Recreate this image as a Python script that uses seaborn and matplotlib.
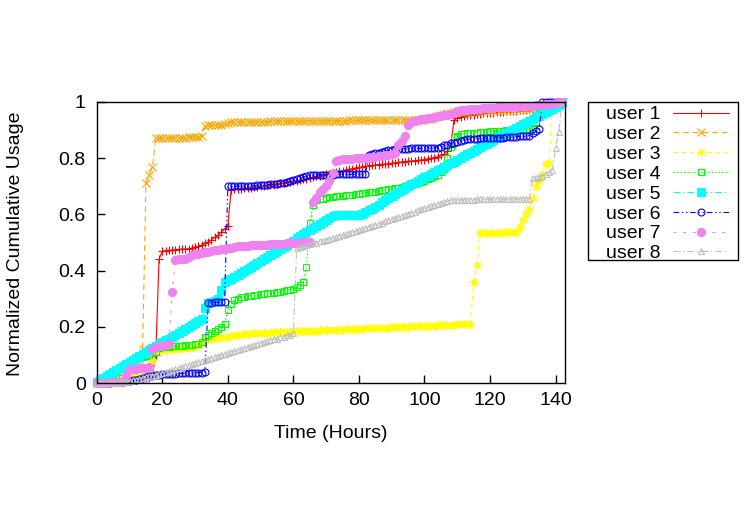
import seaborn as sns
import matplotlib.pyplot as plt
from matplotlib.patches import Rectangle
from matplotlib.ticker import FuncFormatter

# Data (one sample per hour)
# =====================================================================
users = ['user 1', 'user 2', 'user 3', 'user 4', 'user 5', 'user 6', 'user 7', 'user 8']
colors = ['#ff0000', '#ffa500', '#ffff00', '#00ff00', '#00ffff', '#0000ff', '#ee82ee', '#c0c0c0']
x_ticks = [0, 20, 40, 60, 80, 100, 120, 140]
y_ticks = [0, 0.2, 0.4, 0.6, 0.8, 1]

hours = list(range(0, 143))

user1 = [0, 0.001, 0.002, 0.003, 0.004, 0.005, 0.006, 0.007, 0.008, 0.009,
         0.01, 0.011, 0.013, 0.014, 0.016, 0.018, 0.02, 0.03, 0.1, 0.44,
         0.47, 0.471, 0.472, 0.473, 0.475, 0.476, 0.477, 0.477, 0.478, 0.479,
         0.483, 0.486, 0.49, 0.497, 0.503, 0.51, 0.518, 0.527, 0.537, 0.548,
         0.56, 0.688, 0.69, 0.691, 0.692, 0.693, 0.694, 0.695, 0.696, 0.698,
         0.70, 0.701, 0.703, 0.704, 0.706, 0.708, 0.71, 0.712, 0.714, 0.716,
         0.718, 0.72, 0.722, 0.725, 0.727, 0.73, 0.732, 0.735, 0.738, 0.74,
         0.743, 0.745, 0.748, 0.75, 0.753, 0.755, 0.758, 0.76, 0.763, 0.765,
         0.767, 0.769, 0.771, 0.773, 0.774, 0.776, 0.777, 0.778, 0.779, 0.78,
         0.782, 0.783, 0.785, 0.786, 0.788, 0.789, 0.79, 0.791, 0.792, 0.793,
         0.795, 0.797, 0.80, 0.802, 0.805, 0.81, 0.815, 0.825, 0.84, 0.936,
         0.942, 0.946, 0.95, 0.952, 0.954, 0.955, 0.957, 0.958, 0.959, 0.96,
         0.961, 0.962, 0.963, 0.964, 0.965, 0.966, 0.967, 0.968, 0.969, 0.97,
         0.971, 0.972, 0.973, 0.974, 0.975, 0.976, 0.978, 0.98, 0.982, 0.985,
         0.99, 0.995, 1.0]

user2 = [0, 0.002, 0.003, 0.005, 0.006, 0.008, 0.01, 0.012, 0.015, 0.017,
         0.02, 0.025, 0.03, 0.06, 0.12, 0.71, 0.74, 0.77, 0.87, 0.87,
         0.871, 0.871, 0.872, 0.872, 0.872, 0.873, 0.873, 0.873, 0.874, 0.874,
         0.875, 0.876, 0.877, 0.915, 0.916, 0.917, 0.918, 0.919, 0.919, 0.92,
         0.925, 0.928, 0.929, 0.929, 0.929, 0.93, 0.93, 0.93, 0.93, 0.93,
         0.93, 0.93, 0.93, 0.931, 0.931, 0.931, 0.931, 0.931, 0.931, 0.931,
         0.931, 0.932, 0.932, 0.932, 0.932, 0.932, 0.932, 0.932, 0.932, 0.933,
         0.933, 0.933, 0.933, 0.933, 0.933, 0.933, 0.933, 0.934, 0.934, 0.934,
         0.934, 0.934, 0.934, 0.934, 0.934, 0.935, 0.935, 0.935, 0.935, 0.935,
         0.935, 0.935, 0.935, 0.935, 0.936, 0.936, 0.936, 0.936, 0.936, 0.936,
         0.937, 0.938, 0.94, 0.944, 0.948, 0.953, 0.958, 0.96, 0.962, 0.963,
         0.964, 0.964, 0.965, 0.965, 0.966, 0.966, 0.967, 0.967, 0.968, 0.968,
         0.969, 0.969, 0.97, 0.97, 0.971, 0.971, 0.972, 0.972, 0.973, 0.973,
         0.974, 0.975, 0.976, 0.977, 0.978, 0.979, 0.981, 0.983, 0.985, 0.987,
         0.99, 0.995, 1.0]

user3 = [0, 0.001, 0.003, 0.004, 0.006, 0.008, 0.01, 0.012, 0.015, 0.018,
         0.022, 0.028, 0.035, 0.04, 0.045, 0.048, 0.05, 0.08, 0.115, 0.117,
         0.118, 0.119, 0.12, 0.121, 0.122, 0.123, 0.124, 0.125, 0.127, 0.128,
         0.13, 0.135, 0.145, 0.155, 0.158, 0.159, 0.16, 0.162, 0.163, 0.165,
         0.166, 0.168, 0.17, 0.171, 0.173, 0.174, 0.176, 0.177, 0.178, 0.178,
         0.179, 0.179, 0.18, 0.18, 0.181, 0.181, 0.182, 0.182, 0.183, 0.183,
         0.184, 0.184, 0.185, 0.185, 0.186, 0.186, 0.187, 0.187, 0.188, 0.188,
         0.189, 0.189, 0.19, 0.19, 0.191, 0.191, 0.192, 0.192, 0.193, 0.193,
         0.194, 0.194, 0.195, 0.195, 0.196, 0.196, 0.197, 0.197, 0.198, 0.198,
         0.199, 0.199, 0.2, 0.2, 0.201, 0.201, 0.202, 0.202, 0.203, 0.203,
         0.204, 0.204, 0.205, 0.205, 0.206, 0.206, 0.207, 0.207, 0.208, 0.208,
         0.209, 0.209, 0.21, 0.21, 0.211, 0.36, 0.42, 0.533, 0.534, 0.534,
         0.534, 0.534, 0.535, 0.535, 0.535, 0.536, 0.536, 0.536, 0.537, 0.556,
         0.58, 0.60, 0.618, 0.66, 0.70, 0.72, 0.74, 0.78, 0.783, 0.99,
         0.993, 0.996, 1.0]

user4 = [0, 0.003, 0.005, 0.008, 0.01, 0.015, 0.02, 0.04, 0.065, 0.07,
         0.075, 0.08, 0.085, 0.089, 0.093, 0.097, 0.1, 0.106, 0.112, 0.125,
         0.128, 0.129, 0.13, 0.131, 0.132, 0.133, 0.134, 0.135, 0.136, 0.137,
         0.139, 0.141, 0.145, 0.165, 0.17, 0.178, 0.185, 0.192, 0.2, 0.21,
         0.26, 0.28, 0.295, 0.3, 0.305, 0.307, 0.31, 0.311, 0.313, 0.314,
         0.316, 0.317, 0.319, 0.32, 0.322, 0.323, 0.325, 0.327, 0.33, 0.333,
         0.336, 0.343, 0.35, 0.36, 0.414, 0.568, 0.633, 0.651, 0.653, 0.655,
         0.66, 0.661, 0.663, 0.664, 0.666, 0.667, 0.668, 0.669, 0.67, 0.671,
         0.673, 0.675, 0.677, 0.678, 0.68, 0.681, 0.683, 0.685, 0.687, 0.689,
         0.691, 0.693, 0.695, 0.697, 0.70, 0.702, 0.705, 0.708, 0.712, 0.716,
         0.72, 0.725, 0.73, 0.735, 0.74, 0.75, 0.76, 0.80, 0.84, 0.875,
         0.88, 0.885, 0.886, 0.888, 0.889, 0.89, 0.891, 0.892, 0.893, 0.894,
         0.895, 0.896, 0.897, 0.898, 0.898, 0.899, 0.899, 0.90, 0.90, 0.901,
         0.902, 0.903, 0.904, 0.905, 0.93, 0.965, 0.97, 0.975, 0.98, 0.985,
         0.99, 0.995, 1.0]

user5 = [0.005, 0.012, 0.019, 0.026, 0.033, 0.04, 0.047, 0.054, 0.061, 0.068,
         0.075, 0.082, 0.089, 0.096, 0.103, 0.11, 0.117, 0.124, 0.131, 0.138,
         0.145, 0.152, 0.159, 0.166, 0.173, 0.18, 0.187, 0.194, 0.201, 0.208,
         0.215, 0.222, 0.229, 0.267, 0.285, 0.288, 0.292, 0.30, 0.33, 0.36,
         0.366, 0.372, 0.378, 0.384, 0.391, 0.398, 0.405, 0.412, 0.419, 0.426,
         0.433, 0.44, 0.447, 0.455, 0.462, 0.47, 0.477, 0.485, 0.492, 0.5,
         0.507, 0.515, 0.522, 0.53, 0.537, 0.545, 0.552, 0.56, 0.567, 0.574,
         0.581, 0.588, 0.594, 0.598, 0.598, 0.598, 0.598, 0.598, 0.598, 0.599,
         0.599, 0.60, 0.607, 0.614, 0.621, 0.628, 0.635, 0.643, 0.65, 0.657,
         0.664, 0.672, 0.679, 0.686, 0.693, 0.70, 0.707, 0.713, 0.72, 0.726,
         0.732, 0.738, 0.745, 0.751, 0.757, 0.763, 0.77, 0.776, 0.782, 0.788,
         0.795, 0.801, 0.807, 0.813, 0.82, 0.826, 0.832, 0.838, 0.845, 0.851,
         0.858, 0.864, 0.87, 0.876, 0.883, 0.889, 0.895, 0.901, 0.908, 0.914,
         0.92, 0.926, 0.933, 0.939, 0.945, 0.951, 0.958, 0.964, 0.97, 0.976,
         0.983, 0.989, 1.0]

user6 = [0, 0, 0, 0.001, 0.002, 0.003, 0.004, 0.005, 0.006, 0.007,
         0.009, 0.011, 0.013, 0.016, 0.019, 0.022, 0.025, 0.027, 0.029, 0.031,
         0.032, 0.032, 0.033, 0.034, 0.034, 0.035, 0.035, 0.036, 0.036, 0.037,
         0.037, 0.038, 0.038, 0.04, 0.285, 0.286, 0.287, 0.288, 0.289, 0.29,
         0.70, 0.70, 0.70, 0.70, 0.70, 0.70, 0.701, 0.701, 0.702, 0.703,
         0.704, 0.705, 0.706, 0.707, 0.708, 0.709, 0.711, 0.713, 0.716, 0.718,
         0.722, 0.725, 0.728, 0.732, 0.737, 0.74, 0.74, 0.74, 0.741, 0.741,
         0.741, 0.741, 0.741, 0.742, 0.742, 0.742, 0.742, 0.742, 0.742, 0.743,
         0.743, 0.743, 0.744, 0.81, 0.816, 0.818, 0.82, 0.823, 0.825, 0.828,
         0.83, 0.831, 0.832, 0.833, 0.834, 0.834, 0.835, 0.835, 0.835, 0.835,
         0.835, 0.835, 0.836, 0.836, 0.837, 0.84, 0.845, 0.848, 0.852, 0.855,
         0.859, 0.862, 0.865, 0.867, 0.868, 0.869, 0.869, 0.87, 0.871, 0.871,
         0.872, 0.872, 0.873, 0.873, 0.873, 0.874, 0.874, 0.875, 0.876, 0.877,
         0.877, 0.878, 0.88, 0.888, 0.895, 0.905, 1.0, 1.0, 1.0, 1.0,
         1.0, 1.0, 1.0]

user7 = [0, 0, 0.001, 0.002, 0.003, 0.004, 0.005, 0.006, 0.008, 0.03,
         0.05, 0.051, 0.052, 0.053, 0.054, 0.055, 0.056, 0.12, 0.13, 0.131,
         0.133, 0.135, 0.14, 0.325, 0.438, 0.44, 0.441, 0.443, 0.45, 0.455,
         0.458, 0.46, 0.462, 0.465, 0.467, 0.469, 0.472, 0.474, 0.476, 0.478,
         0.48, 0.482, 0.484, 0.486, 0.487, 0.489, 0.489, 0.49, 0.491, 0.491,
         0.492, 0.493, 0.493, 0.494, 0.494, 0.495, 0.496, 0.496, 0.497, 0.498,
         0.499, 0.499, 0.5, 0.501, 0.502, 0.503, 0.645, 0.66, 0.68, 0.69,
         0.70, 0.72, 0.746, 0.79, 0.795, 0.796, 0.797, 0.798, 0.798, 0.799,
         0.80, 0.80, 0.801, 0.802, 0.803, 0.805, 0.806, 0.808, 0.81, 0.812,
         0.815, 0.817, 0.847, 0.86, 0.877, 0.918, 0.93, 0.933, 0.936, 0.938,
         0.94, 0.942, 0.944, 0.946, 0.948, 0.95, 0.952, 0.955, 0.958, 0.962,
         0.966, 0.97, 0.971, 0.972, 0.973, 0.974, 0.975, 0.976, 0.977, 0.978,
         0.979, 0.979, 0.98, 0.98, 0.981, 0.981, 0.982, 0.982, 0.983, 0.984,
         0.984, 0.985, 0.986, 0.987, 0.988, 0.989, 0.99, 0.991, 0.992, 0.994,
         0.996, 0.998, 1.0]

user8 = [0, 0, 0, 0, 0, 0.001, 0.002, 0.003, 0.004, 0.006,
         0.008, 0.01, 0.012, 0.015, 0.018, 0.021, 0.024, 0.027, 0.03, 0.033,
         0.037, 0.04, 0.044, 0.047, 0.051, 0.054, 0.058, 0.061, 0.065, 0.068,
         0.072, 0.075, 0.079, 0.082, 0.086, 0.089, 0.093, 0.096, 0.1, 0.103,
         0.107, 0.11, 0.114, 0.117, 0.121, 0.124, 0.128, 0.131, 0.135, 0.138,
         0.142, 0.145, 0.149, 0.152, 0.156, 0.159, 0.163, 0.166, 0.17, 0.173,
         0.177, 0.48, 0.485, 0.488, 0.491, 0.494, 0.497, 0.5, 0.504, 0.507,
         0.51, 0.513, 0.516, 0.52, 0.523, 0.526, 0.53, 0.533, 0.537, 0.541,
         0.545, 0.548, 0.552, 0.556, 0.56, 0.563, 0.567, 0.571, 0.575, 0.579,
         0.583, 0.586, 0.59, 0.594, 0.598, 0.602, 0.606, 0.61, 0.614, 0.618,
         0.622, 0.626, 0.63, 0.633, 0.637, 0.64, 0.644, 0.647, 0.65, 0.651,
         0.651, 0.651, 0.652, 0.652, 0.652, 0.652, 0.653, 0.653, 0.653, 0.653,
         0.653, 0.653, 0.654, 0.654, 0.654, 0.654, 0.654, 0.655, 0.655, 0.655,
         0.655, 0.655, 0.656, 0.728, 0.731, 0.734, 0.738, 0.742, 0.75, 0.758,
         0.835, 0.894, 1.0]

values = [user1, user2, user3, user4, user5, user6, user7, user8]
assert all(len(v) == len(hours) for v in values)

# Styles (gnuplot-like line types)
# =====================================================================
line_styles = ['-', (0, (4, 3)), (0, (3, 3)), (0, (1, 1.5)), (0, (5, 2, 1, 2)),
               (0, (4, 2, 1, 2, 1, 2)), (0, (2, 5)), (0, (5, 2, 1, 2))]
markers = ['+', 'x', (8, 2, 0), 's', 's', 'o', 'o', '^']
filled = [True, True, True, False, True, False, True, False]
sizes = [6, 5.5, 6, 5, 6, 5, 5.8, 5]

# Data Visualization
# =====================================================================
sns.set_theme(style='white')
plt.rcParams['font.family'] = ['Liberation Sans', 'DejaVu Sans']
plt.rcParams['lines.scale_dashes'] = False
plt.rcParams['text.color'] = 'black'
plt.rcParams['axes.labelcolor'] = 'black'

fig = plt.figure(figsize=(7.5, 5.25), dpi=100)
ax = fig.add_axes([0.129, 0.270, 0.624, 0.536])

for name, v, c, ls, m, f, ms in zip(users, values, colors, line_styles, markers, filled, sizes):
    sns.lineplot(x=hours, y=v, ax=ax, color=c, estimator=None, sort=False,
                 linestyle=ls, linewidth=0.8, marker=m, markersize=ms,
                 markerfacecolor=c if f else 'none', markeredgecolor=c,
                 markeredgewidth=0.8, label=name, clip_on=False)

# Axes, ticks and labels
ax.set_xlim(0, 142.8)
ax.set_ylim(0, 1)
ax.set_xticks(x_ticks)
ax.set_yticks(y_ticks)
ax.yaxis.set_major_formatter(FuncFormatter(lambda y, p: f'{y:g}'))
ax.tick_params(direction='in', length=6, width=1, colors='black', labelsize=14,
               bottom=True, left=True, top=False, right=False)
ax.tick_params(axis='x', pad=6)
ax.tick_params(axis='y', pad=8)
for spine in ax.spines.values():
    spine.set_color('black')
    spine.set_linewidth(1)

ax.set_xlabel('Time (Hours)', fontsize=14)
ax.xaxis.set_label_coords(0.501, -0.18)
ax.xaxis.label.set_va('center')
ax.set_ylabel('Normalized Cumulative Usage', fontsize=14)
ax.yaxis.set_label_coords(-0.174, 0.496)
ax.yaxis.label.set_va('center')

# Legend outside on the right, label first then sample
handles, labels = ax.get_legend_handles_labels()
ax.legend(handles, labels, loc='upper left', bbox_to_anchor=(606 / 750, 1 - 105.7 / 525),
          bbox_transform=fig.transFigure, frameon=False, markerfirst=False, fontsize=14,
          handlelength=2.85, handletextpad=0.65, labelspacing=0.115, borderpad=0,
          borderaxespad=0)
fig.patches.append(Rectangle((588 / 750, 1 - 260 / 525), 150 / 750, 158 / 525,
                             transform=fig.transFigure, fill=False, edgecolor='black',
                             linewidth=1))

fig.savefig('out.png', dpi=100)
